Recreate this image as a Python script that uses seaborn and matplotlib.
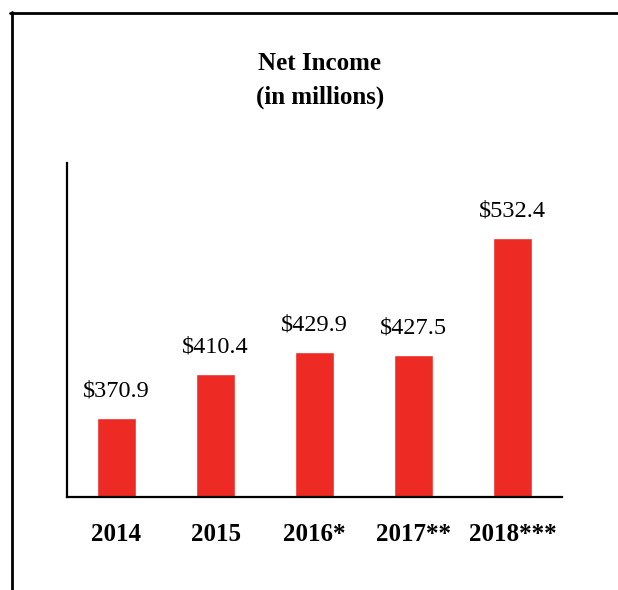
import matplotlib
matplotlib.use("Agg")
import matplotlib.pyplot as plt
import seaborn as sns
import pandas as pd
from matplotlib.lines import Line2D

# chart data
years = ["2014", "2015", "2016*", "2017**", "2018***"]
net_income = [370.9, 410.4, 429.9, 427.5, 532.4]
value_labels = ["$370.9", "$410.4", "$429.9", "$427.5", "$532.4"]

df = pd.DataFrame({"year": years, "income": net_income})

sns.set_style("white")
plt.rcParams["font.family"] = ["Liberation Serif", "DejaVu Serif"]
plt.rcParams["text.color"] = "black"
plt.rcParams["xtick.color"] = "black"

fig = plt.figure(figsize=(6.18, 5.9), dpi=100)
ax = fig.add_axes([67 / 618, 93 / 590, 495 / 618, 334 / 590])

sns.barplot(data=df, x="year", y="income", color="#ee2a24", saturation=1,
            width=0.4, ax=ax)

# value labels over each bar
for i, (v, lab) in enumerate(zip(net_income, value_labels)):
    ax.text(i, v + 15, lab, ha="center", va="bottom", fontsize=17.5,
            color="black")

ax.set_ylim(300, 600)
ax.set_xlim(-0.5, 4.5)
ax.set_xlabel("")
ax.set_ylabel("")
ax.set_yticks([])
ax.tick_params(axis="x", length=0, pad=19, labelcolor="black")
for t in ax.get_xticklabels():
    t.set_fontweight("bold")
    t.set_fontsize(18)

sns.despine(ax=ax, top=True, right=True)
for s in ["left", "bottom"]:
    ax.spines[s].set_color("black")
    ax.spines[s].set_linewidth(1.6)

fig.text(320 / 618, 1 - 63 / 590, "Net Income", ha="center", va="center",
         fontsize=18, fontweight="bold", color="black")
fig.text(320 / 618, 1 - 97 / 590, "(in millions)", ha="center", va="center",
         fontsize=18, fontweight="bold", color="black")

# frame lines (top and left)
fig.add_artist(Line2D([10 / 618, 1], [1 - 13 / 590, 1 - 13 / 590],
                      transform=fig.transFigure, color="black", lw=2))
fig.add_artist(Line2D([12 / 618, 12 / 618], [0, 1 - 12 / 590],
                      transform=fig.transFigure, color="black", lw=2))

fig.savefig("out.png", dpi=100)
